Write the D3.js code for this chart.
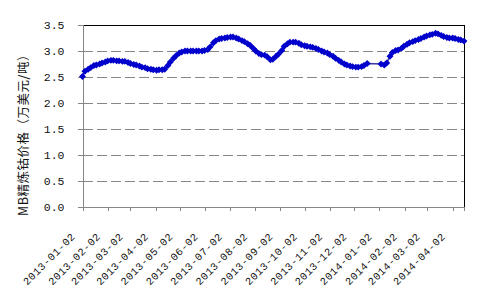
<!DOCTYPE html>
<html>
<head>
<meta charset="utf-8">
<style>
  body { margin: 0; background: #fff; }
  .axis path, .axis line { fill: none; stroke: #868686; shape-rendering: crispEdges; }
  .axis text { font-family: "Liberation Mono", monospace; fill: #111; }
  .grid line { stroke: #868686; stroke-dasharray: 10,4; shape-rendering: crispEdges; }
  .frame { fill: none; stroke: #000; shape-rendering: crispEdges; }
</style>
</head>
<body>
<script src="https://cdn.jsdelivr.net/npm/d3@7"></script>
<script>
// price dates (twice weekly quotes, holiday gap end of Dec 2013)
var dates = [
  "2013-01-02","2013-01-05","2013-01-09","2013-01-12","2013-01-16","2013-01-19","2013-01-23","2013-01-26","2013-01-30",
  "2013-02-02","2013-02-06","2013-02-09","2013-02-13","2013-02-16","2013-02-20","2013-02-23","2013-02-27",
  "2013-03-02","2013-03-06","2013-03-09","2013-03-13","2013-03-16","2013-03-20","2013-03-23","2013-03-27","2013-03-30",
  "2013-04-03","2013-04-06","2013-04-10","2013-04-13","2013-04-17","2013-04-20","2013-04-24","2013-04-27",
  "2013-05-01","2013-05-04","2013-05-08","2013-05-11","2013-05-15","2013-05-18","2013-05-22","2013-05-25","2013-05-29",
  "2013-06-01","2013-06-05","2013-06-08","2013-06-12","2013-06-15","2013-06-19","2013-06-22","2013-06-26","2013-06-29",
  "2013-07-03","2013-07-06","2013-07-10","2013-07-13","2013-07-17","2013-07-20","2013-07-24","2013-07-27","2013-07-31",
  "2013-08-03","2013-08-07","2013-08-10","2013-08-14","2013-08-17","2013-08-21","2013-08-24","2013-08-28","2013-08-31",
  "2013-09-04","2013-09-07","2013-09-11","2013-09-14","2013-09-18","2013-09-21","2013-09-25","2013-09-28",
  "2013-10-02","2013-10-05","2013-10-09","2013-10-12","2013-10-16","2013-10-19","2013-10-23","2013-10-26","2013-10-30",
  "2013-11-02","2013-11-06","2013-11-09","2013-11-13","2013-11-16","2013-11-20","2013-11-23","2013-11-27","2013-11-30",
  "2013-12-04","2013-12-07","2013-12-11","2013-12-14","2013-12-18",
  "2014-01-04","2014-01-08","2014-01-11","2014-01-15","2014-01-18","2014-01-22","2014-01-25","2014-01-29",
  "2014-02-01","2014-02-05","2014-02-08","2014-02-12","2014-02-15","2014-02-19","2014-02-22","2014-02-26",
  "2014-03-01","2014-03-05","2014-03-08","2014-03-12","2014-03-15","2014-03-19","2014-03-22","2014-03-26","2014-03-29",
  "2014-04-02","2014-04-05","2014-04-09","2014-04-12","2014-04-16"
];
var prices = [
  2.51, 2.61, 2.65, 2.68, 2.72, 2.73, 2.75, 2.77, 2.79,
  2.81, 2.82, 2.82, 2.81, 2.81, 2.80, 2.80, 2.78,
  2.76, 2.74, 2.73, 2.71, 2.69, 2.68, 2.66, 2.65, 2.64,
  2.63, 2.64, 2.64, 2.65, 2.72, 2.79, 2.86, 2.91,
  2.96, 2.98, 3.00, 3.00, 3.00, 3.00, 3.00, 3.00, 3.00,
  3.01, 3.03, 3.08, 3.16, 3.20, 3.23, 3.24, 3.25, 3.26,
  3.27, 3.27, 3.25, 3.23, 3.20, 3.18, 3.14, 3.11, 3.05,
  3.00, 2.95, 2.93, 2.92, 2.89, 2.83, 2.84, 2.90, 2.94,
  3.01, 3.09, 3.14, 3.17, 3.17, 3.17, 3.15, 3.12,
  3.10, 3.09, 3.08, 3.07, 3.05, 3.03, 3.00, 2.98, 2.96,
  2.93, 2.90, 2.86, 2.82, 2.79, 2.75, 2.73, 2.71, 2.70,
  2.69, 2.69, 2.70, 2.72, 2.76,
  2.75, 2.73, 2.77, 2.90, 2.97, 3.01, 3.02, 3.05,
  3.09, 3.13, 3.16, 3.18, 3.20, 3.22, 3.24, 3.27,
  3.29, 3.31, 3.32, 3.34, 3.33, 3.30, 3.28, 3.26, 3.25,
  3.25, 3.24, 3.22, 3.21, 3.19
];
var tickDates = [
  "2013-01-02","2013-02-02","2013-03-02","2013-04-02","2013-05-02","2013-06-02","2013-07-02","2013-08-02",
  "2013-09-02","2013-10-02","2013-11-02","2013-12-02","2014-01-02","2014-02-02","2014-03-02","2014-04-02"
];
var yTicks = [0, 0.5, 1.0, 1.5, 2.0, 2.5, 3.0, 3.5];
var yTitle = "MB精炼钴价格（万美元/吨）";

var svgWidth = 482, svgHeight = 298;
var margin = { top: 25, left: 82.5 };
var width = 381.5, height = 182;

var parse = d3.utcParse("%Y-%m-%d");
var data = dates.map(function (d, i) { return { date: parse(d), value: prices[i] }; });

var x = d3.scaleUtc().domain([parse(dates[0]), parse(dates[dates.length - 1])]).range([0, width]);
var y = d3.scaleLinear().domain([0, 3.5]).range([height, 0]);

var svg = d3.select("body").append("svg").attr("width", svgWidth).attr("height", svgHeight);
var g = svg.append("g").attr("transform", "translate(" + margin.left + "," + margin.top + ")");

// dashed gridlines
g.append("g").attr("class", "grid")
  .selectAll("line").data(yTicks.filter(function (t) { return t > 0 && t < 3.5; }))
  .enter().append("line")
  .attr("x1", 0).attr("x2", width)
  .attr("y1", function (d) { return y(d); }).attr("y2", function (d) { return y(d); });

// top and right border
g.append("path").attr("class", "frame")
  .attr("d", "M0," + y(3.5) + "H" + width + "V" + height);

var yAxis = d3.axisLeft(y).tickValues(yTicks).tickFormat(d3.format(".1f")).tickSize(5).tickPadding(13);
g.append("g").attr("class", "axis").call(yAxis)
  .selectAll("text").style("font-size", "11.5px");

var xAxis = d3.axisBottom(x).tickValues(tickDates.map(parse)).tickFormat(d3.utcFormat("%Y-%m-%d")).tickSize(4);
g.append("g").attr("class", "axis").attr("transform", "translate(0," + height + ")").call(xAxis)
  .selectAll("text")
  .style("font-size", "10.5px")
  .style("letter-spacing", "0.6px")
  .attr("x", 0).attr("y", 0).attr("dy", 0)
  .attr("text-anchor", "end")
  .attr("transform", "translate(-7,30) rotate(-45)");

// series
var line = d3.line().x(function (d) { return x(d.date); }).y(function (d) { return y(d.value); });
g.append("path").datum(data)
  .attr("fill", "none").attr("stroke", "#3a3aa8").attr("stroke-width", 1.6)
  .attr("d", line);

g.selectAll(".pt").data(data).enter().append("path").attr("class", "pt")
  .attr("d", d3.symbol().type(d3.symbolSquare).size(24))
  .attr("fill", "#0000cc")
  .attr("transform", function (d) { return "translate(" + x(d.date) + "," + y(d.value) + ") rotate(45)"; });

// y title
svg.append("text")
  .attr("transform", "translate(28,132) rotate(-90)")
  .attr("text-anchor", "middle")
  .style("font-family", "'Noto Sans CJK SC', sans-serif")
  .style("font-size", "12.5px")
  .style("letter-spacing", "0.5px")
  .attr("fill", "#111")
  .text(yTitle);
</script>
</body>
</html>
